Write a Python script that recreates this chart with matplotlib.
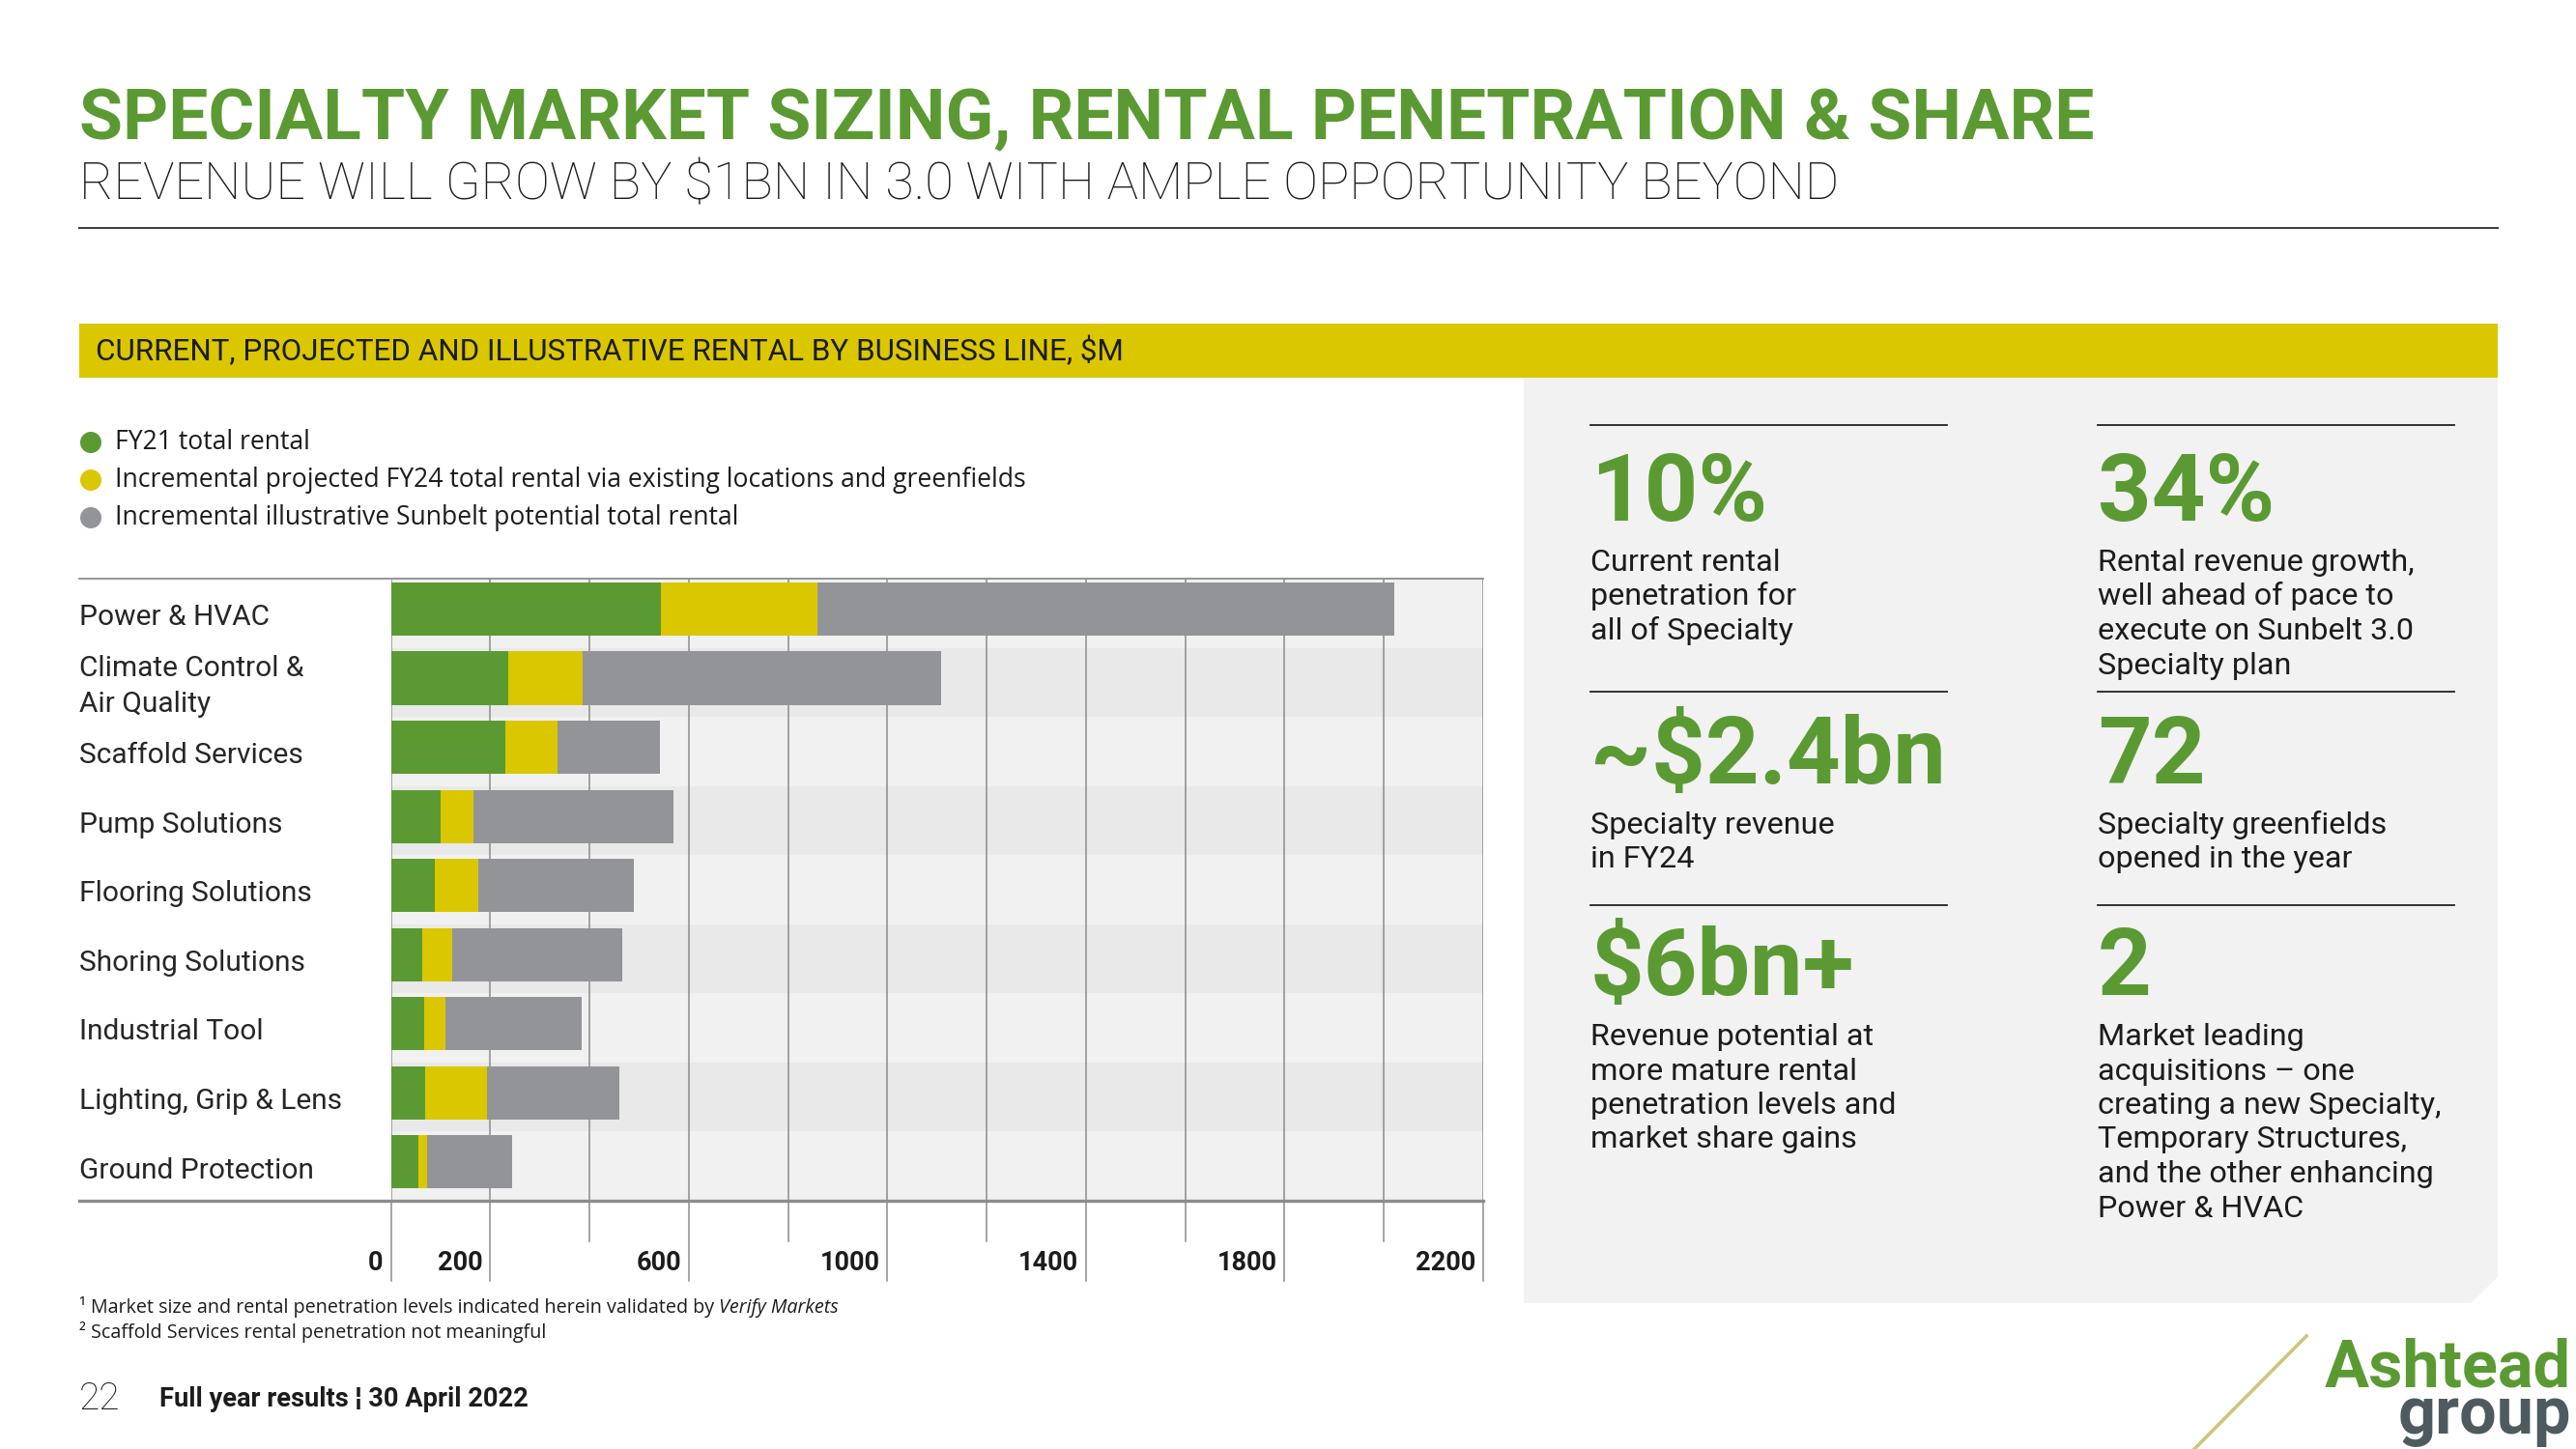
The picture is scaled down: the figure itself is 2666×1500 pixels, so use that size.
import matplotlib
matplotlib.use('Agg')
import matplotlib.pyplot as plt
from matplotlib import font_manager
from matplotlib.patches import Rectangle, Polygon, Ellipse
from matplotlib.lines import Line2D
import matplotlib.transforms as mtransforms

# ---------------- data ----------------
categories = ['Power & HVAC', 'Climate Control &\nAir Quality', 'Scaffold Services',
              'Pump Solutions', 'Flooring Solutions', 'Shoring Solutions',
              'Industrial Tool', 'Lighting, Grip & Lens', 'Ground Protection']
fy21_rental = [543, 237, 231, 100, 89, 62, 67, 69, 56]
incr_projected_fy24 = [315, 149, 105, 66, 87, 62, 43, 124, 17]
incr_illustrative = [1162, 722, 206, 402, 314, 342, 274, 266, 170]
series_names = ['FY21 total rental',
                'Incremental projected FY24 total rental via existing locations and greenfields',
                'Incremental illustrative Sunbelt potential total rental']
tick_labels = ['0', '200', '600', '1000', '1400', '1800', '2200']
x_max = 2200
grid_step = 200

stat_values = ['10%', '34%', '~$2.4bn', '72', '$6bn+', '2']
stat_texts = ['Current rental\npenetration for\nall of Specialty',
              'Rental revenue growth,\nwell ahead of pace to\nexecute on Sunbelt 3.0\nSpecialty plan',
              'Specialty revenue\nin FY24',
              'Specialty greenfields\nopened in the year',
              'Revenue potential at\nmore mature rental\npenetration levels and\nmarket share gains',
              'Market leading\nacquisitions \u2013 one\ncreating a new Specialty,\nTemporary Structures,\nand the other enhancing\nPower & HVAC']

title = 'SPECIALTY MARKET SIZING, RENTAL PENETRATION & SHARE'
subtitle = 'REVENUE WILL GROW BY $1BN IN 3.0 WITH AMPLE OPPORTUNITY BEYOND'
band_title = 'CURRENT, PROJECTED AND ILLUSTRATIVE RENTAL BY BUSINESS LINE, $M'
footnote1 = '\u00b9 Market size and rental penetration levels indicated herein validated by '
footnote1_it = 'Verify Markets'
footnote2 = '\u00b2 Scaffold Services rental penetration not meaningful'
page_no = '22'
footer = 'Full year results \u00a6 30 April 2022'

# ---------------- style ----------------
GREEN = '#5b9a33'
YELLOW = '#dac700'
GRAY = '#939498'
DARK = '#1c1c1c'
GRID = '#8c8c8c'

avail = {f.name for f in font_manager.fontManager.ttflist}
NARROW = 'Liberation Sans Narrow' if 'Liberation Sans Narrow' in avail else 'Roboto'

W, H = 2666, 1500
fig = plt.figure(figsize=(W / 100, H / 100), dpi=100)
fig.patch.set_facecolor('white')
renderer = fig.canvas.get_renderer()


def X(px):
    return px / W


def Y(py):
    return 1 - py / H


def txt(x, y, s, size, fit_w=None, **kw):
    kw.setdefault('va', 'baseline')
    kw.setdefault('family', 'Roboto')
    kw.setdefault('color', DARK)
    t = fig.text(X(x), Y(y), s, fontsize=size, **kw)
    if fit_w:
        bb = t.get_window_extent(renderer)
        t.set_fontsize(size * fit_w / bb.width)
    return t


# ---------------- header ----------------
txt(82, 144, title, 60, fit_w=2086, family=NARROW, fontweight='bold', color=GREEN)
txt(82, 206, subtitle, 36, fit_w=1822, fontweight='light')
fig.add_artist(Line2D([X(82), X(2585)], [Y(236), Y(236)], color='#3a3a3a', lw=1.4))

fig.add_artist(Rectangle((X(82), Y(391)), X(2585) - X(82), (391 - 335) / H,
                         transform=fig.transFigure, facecolor=YELLOW, edgecolor='none'))
txt(99, 373, band_title, 20, fit_w=1066)

# right panel
fig.add_artist(Polygon([(X(1577), Y(391)), (X(2585), Y(391)), (X(2585), Y(1322)),
                        (X(2557), Y(1349)), (X(1577), Y(1349))], closed=True,
                       transform=fig.transFigure, facecolor='#f2f2f2', edgecolor='none'))

# ---------------- legend ----------------
colors = [GREEN, YELLOW, GRAY]
leg_y = [458, 497, 536]
for name, c, yy in zip(series_names, colors, leg_y):
    fig.add_artist(Ellipse((X(94), Y(yy)), 22 / W, 22 / H, transform=fig.transFigure,
                           facecolor=c, edgecolor='none'))
t0 = txt(119, 456, series_names[1], 18, fit_w=942, va='center', family='Open Sans')
leg_size = t0.get_fontsize()
t0.remove()
for name, yy in zip(series_names, leg_y):
    txt(119, yy, name, leg_size, va='center', family='Open Sans')

# ---------------- chart ----------------
ax = fig.add_axes([X(404.7), Y(1243), (1535 - 404.7) / W, (1243 - 599) / H])
n = len(categories)
ypos = list(range(n))
band_colors = ['#f1f1f1', '#e8e9e8']
for i in ypos:
    ax.axhspan(i - 0.44, i + 0.56, color=band_colors[i % 2], zorder=0, lw=0)
left2 = fy21_rental
left3 = [a + b for a, b in zip(fy21_rental, incr_projected_fy24)]
ax.barh(ypos, fy21_rental, height=0.77, color=GREEN, zorder=3)
ax.barh(ypos, incr_projected_fy24, left=left2, height=0.77, color=YELLOW, zorder=3)
ax.barh(ypos, incr_illustrative, left=left3, height=0.77, color=GRAY, zorder=3)
ax.set_xlim(0, x_max)
ax.set_ylim(n - 0.44, -0.44)
for v in range(0, x_max + 1, grid_step):
    ax.axvline(v, color=GRID, lw=1.1, zorder=1)
ax.set_xticks([])
ax.set_yticks([])
ax.set_facecolor('white')
for sp in ax.spines.values():
    sp.set_visible(False)

fig.add_artist(Line2D([X(82), X(1535)], [Y(599), Y(599)], color=GRID, lw=1.3))
fig.add_artist(Line2D([X(82), X(1535)], [Y(1243), Y(1243)], color=GRID, lw=2.4))

trans = mtransforms.blended_transform_factory(ax.transData, fig.transFigure)
for v in range(0, x_max + 1, grid_step):
    ext = 1326 if str(v) in tick_labels else 1285
    ax.plot([v, v], [Y(1243), Y(ext)], transform=trans, color=GRID, lw=1.1, clip_on=False)
off = mtransforms.offset_copy(trans, fig=fig, x=-8, y=0, units='dots')
for lab in tick_labels:
    ax.text(float(lab), Y(1315), lab, transform=off, ha='right', va='baseline',
            fontsize=19.5, fontweight='bold', family='Roboto', color=DARK, clip_on=False)

# category labels
tc = txt(82, 500, categories[0], 20, fit_w=197)
cat_size = tc.get_fontsize()
tc.remove()
ltrans = mtransforms.blended_transform_factory(fig.transFigure, ax.transData)
for i, c in enumerate(categories):
    ax.text(X(82), i + 0.12, c, transform=ltrans, ha='left', va='center', fontsize=cat_size,
            family='Roboto', color='#262626', linespacing=1.4, clip_on=False)

# ---------------- stats ----------------
col_x = [1646, 2171]
rule_y = [440, 716, 937]
num_base = [539, 811, 1030]
for k, (val, desc) in enumerate(zip(stat_values, stat_texts)):
    r, c = divmod(k, 2)
    x = col_x[c]
    fig.add_artist(Line2D([X(x), X(x + 369)], [Y(rule_y[r])] * 2, color='#222222', lw=1.3))
    txt(x, num_base[r], val, 70, fontweight='bold', color=GREEN)
    for j, line in enumerate(desc.split('\n')):
        txt(x, num_base[r] + 52 + 35.5 * j, line, 23.3)

# ---------------- footnotes & footer ----------------
f1 = txt(82, 1359, footnote1, 14.2, family='Open Sans')
bb = f1.get_window_extent(renderer)
fig.text(bb.x1 / W, Y(1359), footnote1_it, fontsize=14.2, family='Open Sans', style='italic',
         va='baseline', color=DARK)
txt(82, 1385, footnote2, 14.2, family='Open Sans')
txt(82, 1459, page_no, 28, fontweight='light')
txt(165, 1456, footer, 20, fit_w=381, family=NARROW, fontweight='bold')

# ---------------- logo ----------------
fig.add_artist(Line2D([X(2271), X(2387)], [Y(1500), Y(1383)], color='#c9c77c', lw=2.6))
txt(2406, 1436, 'Ashtead', 40, fit_w=255, fontweight='bold', color=GREEN)
txt(2482, 1484, 'group', 40, fit_w=179, fontweight='bold', color='#4d5b5f')

fig.savefig('out.png', dpi=100, facecolor='white')
